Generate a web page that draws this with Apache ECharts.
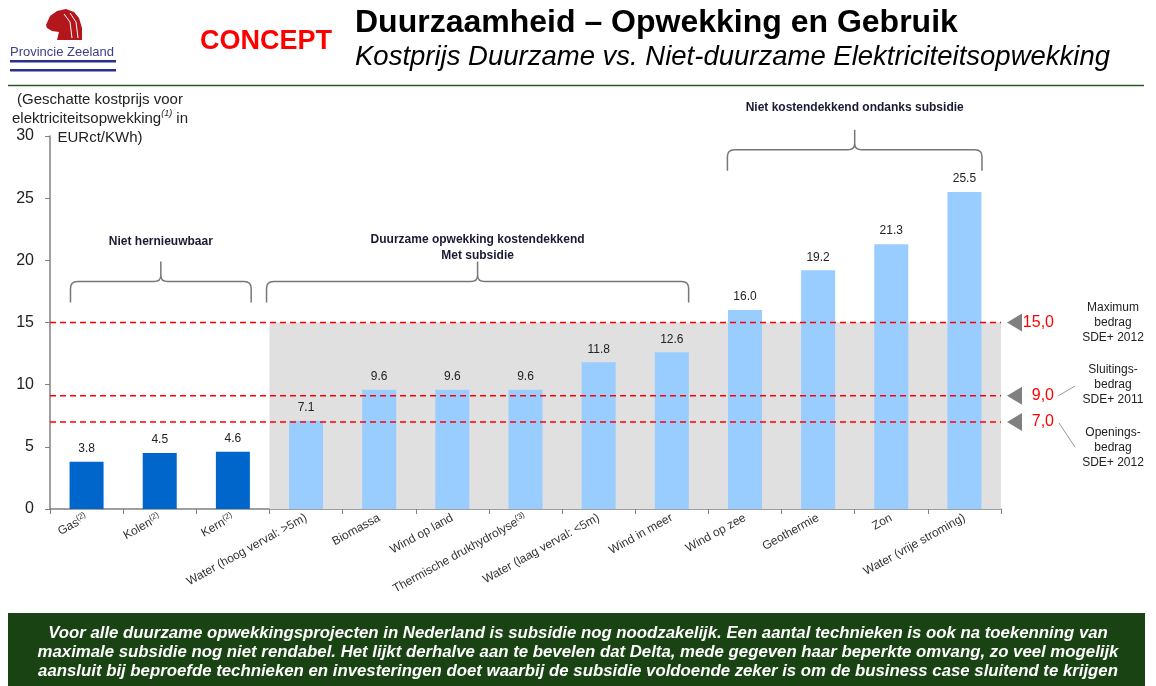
<!DOCTYPE html>
<html>
<head>
<meta charset="utf-8">
<script src="https://cdn.jsdelivr.net/npm/echarts@6/dist/echarts.min.js"></script>
<style>
html, body { margin: 0; padding: 0; background: #fff; }
#chart { width: 1156px; height: 686px; }
</style>
</head>
<body>
<div id="chart"></div>
<script>
// kostprijs per techniek (EURct/KWh)
const categories = ['Gas', 'Kolen', 'Kern', 'Water (hoog verval: >5m)', 'Biomassa', 'Wind op land',
    'Thermische drukhydrolyse', 'Water (laag verval: <5m)', 'Wind in meer', 'Wind op zee',
    'Geothermie', 'Zon', 'Water (vrije stroming)'];
const footnotes = ['(2)', '(2)', '(2)', '', '', '', '(3)', '', '', '', '', '', ''];
const costs = [3.8, 4.5, 4.6, 7.1, 9.6, 9.6, 9.6, 11.8, 12.6, 16.0, 19.2, 21.3, 25.5];
const renewable = [false, false, false, true, true, true, true, true, true, true, true, true, true];

// subsidiebedragen SDE+
const thresholds = [15.0, 9.1, 7.0];
const thresholdLabels = ['15,0', '9,0', '7,0'];

// grijs vlak: categorie 3 t/m 12, tot 15
const shade = [[3, 13, 15]];

// accolades boven de groepen
const bracketLabels = ['Niet hernieuwbaar', 'Duurzame opwekking kostendekkend\nMet subsidie', 'Niet kostendekkend ondanks subsidie'];
const bracketFrom = [0.28, 2.96, 9.26];
const bracketTo = [2.75, 8.73, 12.74];
const bracketLevel = [18.3, 18.3, 28.9];
const bracketLabelGap = [12, -2, 14];

const yTicks = { min: 0, max: 30, interval: 5 };

function bracketPath(x0, x1, yTip, yMid, yEnd) {
    const xc = (x0 + x1) / 2, r = 7;
    return 'M' + x0 + ' ' + yEnd + ' L' + x0 + ' ' + (yMid + r) +
        ' Q' + x0 + ' ' + yMid + ' ' + (x0 + r) + ' ' + yMid +
        ' L' + (xc - r) + ' ' + yMid +
        ' Q' + xc + ' ' + yMid + ' ' + xc + ' ' + (yMid - 6) +
        ' L' + xc + ' ' + yTip +
        ' M' + xc + ' ' + (yMid - 6) +
        ' Q' + xc + ' ' + yMid + ' ' + (xc + r) + ' ' + yMid +
        ' L' + (x1 - r) + ' ' + yMid +
        ' Q' + x1 + ' ' + yMid + ' ' + x1 + ' ' + (yMid + r) +
        ' L' + x1 + ' ' + yEnd;
}

const font = 'Liberation Sans, Arial, sans-serif';
const chart = echarts.init(document.getElementById('chart'));

const option = {
    animation: false,
    textStyle: { fontFamily: font },
    grid: { left: 50, right: 155, top: 136, bottom: 177, containLabel: false },
    xAxis: [{
        type: 'category',
        data: categories,
        axisLine: { lineStyle: { color: '#808080', width: 1.5 } },
        axisTick: { show: true, length: 5, lineStyle: { color: '#808080' } },
        axisLabel: {
            rotate: 29,
            margin: 8,
            interval: 0,
            color: '#333',
            fontSize: 12,
            fontFamily: font,
            formatter: (v, i) => footnotes[i] ? v + '{sup|' + footnotes[i] + '}' : v,
            rich: { sup: { fontSize: 8, verticalAlign: 'top', color: '#333', padding: [0, 0, 6, 0] } }
        }
    }, {
        type: 'value', min: 0, max: 13, show: false
    }],
    yAxis: {
        type: 'value',
        min: yTicks.min, max: yTicks.max, interval: yTicks.interval,
        splitLine: { show: false },
        axisLine: { show: true, lineStyle: { color: '#808080', width: 1.5 } },
        axisTick: { show: true, length: 5, lineStyle: { color: '#808080' } },
        axisLabel: { fontSize: 16, color: '#222', margin: 16, fontFamily: font }
    },
    series: [{
        type: 'custom',
        xAxisIndex: 1,
        z: 1,
        silent: true,
        data: shade,
        renderItem: (params, api) => {
            const a = api.coord([api.value(0), api.value(2)]);
            const b = api.coord([api.value(1), 0]);
            return { type: 'rect', shape: { x: a[0], y: a[1], width: b[0] - a[0], height: b[1] - a[1] },
                style: { fill: '#E0E0E0' } };
        }
    }, {
        type: 'bar',
        z: 2,
        barWidth: 34,
        data: costs.map((v, i) => ({ value: v, itemStyle: { color: renewable[i] ? '#99CCFF' : '#0066CC' } })),
        label: {
            show: true, position: 'top', distance: 7, color: '#222', fontSize: 12, fontFamily: font,
            formatter: p => p.value.toFixed(1)
        }
    }, {
        type: 'custom',
        xAxisIndex: 1,
        z: 3,
        silent: true,
        data: thresholds.map((v, i) => [0, v]),
        renderItem: (params, api) => {
            const v = api.value(1);
            const p0 = api.coord([0, v]);
            const p1 = api.coord([13, v]);
            return { type: 'group', children: [
                { type: 'line', shape: { x1: p0[0], y1: p0[1], x2: p1[0], y2: p1[1] },
                  style: { stroke: '#FF0000', lineWidth: 1.5, lineDash: [6, 4] } },
                { type: 'polygon', shape: { points: [[p1[0] + 6, p1[1]], [p1[0] + 21, p1[1] - 9], [p1[0] + 21, p1[1] + 9]] },
                  style: { fill: '#808080' } },
                { type: 'text', x: p1[0] + 53, y: p1[1],
                  style: { text: thresholdLabels[params.dataIndex], fill: '#FF0000', fontSize: 16, fontFamily: font,
                      align: 'right', verticalAlign: 'middle' } }
            ] };
        }
    }, {
        type: 'custom',
        xAxisIndex: 1,
        z: 4,
        silent: true,
        data: bracketFrom.map((f, i) => [f, bracketTo[i], bracketLevel[i]]),
        renderItem: (params, api) => {
            const a = api.coord([api.value(0), api.value(2)]);
            const b = api.coord([api.value(1), api.value(2)]);
            const yMid = a[1], yTip = yMid - 20, yEnd = yMid + 21;
            return { type: 'group', children: [
                { type: 'path', shape: { pathData: bracketPath(a[0], b[0], yTip, yMid, yEnd) },
                  style: { fill: 'none', stroke: '#777', lineWidth: 1.5 } },
                { type: 'text', x: (a[0] + b[0]) / 2, y: yTip - bracketLabelGap[params.dataIndex],
                  style: { text: bracketLabels[params.dataIndex], fill: '#1a1a33', fontSize: 12, fontWeight: 'bold',
                      fontFamily: font, align: 'center', verticalAlign: 'bottom', lineHeight: 16 } }
            ] };
        }
    }],
    graphic: [
        // logo
        { type: 'polygon', shape: { points: [[46, 25], [50, 16], [57, 11], [66, 9], [74, 12], [79, 18], [82, 28], [82, 40], [57, 40], [59, 32], [52, 31], [47, 28]] },
          style: { fill: '#B3161B' } },
        { type: 'polyline', shape: { points: [[64, 14], [70, 22], [72, 38]] }, style: { stroke: '#fff', lineWidth: 1, fill: 'none' } },
        { type: 'polyline', shape: { points: [[70, 13], [76, 22], [78, 38]] }, style: { stroke: '#fff', lineWidth: 1, fill: 'none' } },
        { type: 'text', left: 10, top: 46, style: { text: 'Provincie Zeeland', fill: '#3a3f8c', fontSize: 13, fontFamily: font } },
        { type: 'rect', shape: { x: 10, y: 60, width: 106, height: 2.5 }, style: { fill: '#2b2f8f' } },
        { type: 'rect', shape: { x: 10, y: 69, width: 106, height: 2.5 }, style: { fill: '#2b2f8f' } },
        // kop
        { type: 'text', left: 200, top: 28, style: { text: 'CONCEPT', fill: '#FF0000', fontSize: 27, fontWeight: 'bold', fontFamily: font } },
        { type: 'text', left: 355, top: 7, style: { text: 'Duurzaamheid \u2013 Opwekking en Gebruik', fill: '#000', fontSize: 32, fontWeight: 'bold', fontFamily: font } },
        { type: 'text', left: 355, top: 44, style: { text: 'Kostprijs Duurzame vs. Niet-duurzame Elektriciteitsopwekking', fill: '#000', fontSize: 27.5, fontStyle: 'italic', fontFamily: font } },
        { type: 'line', shape: { x1: 8, y1: 85.5, x2: 1144, y2: 85.5 }, style: { stroke: '#2d5a2d', lineWidth: 1.5 } },
        // as-titel
        { type: 'text', x: 100, y: 90, style: {
            text: '(Geschatte kostprijs voor\nelektriciteitsopwekking{sup|(1)} in\nEURct/KWh)',
            fill: '#222', fontSize: 15, lineHeight: 19, fontFamily: font, align: 'center',
            rich: { sup: { fontSize: 9, fontStyle: 'italic', verticalAlign: 'top', lineHeight: 19, padding: [0, 0, 6, 0], fill: '#222' } } } },
        // toelichting SDE+
        { type: 'text', x: 1113, y: 323, style: { text: 'Maximum\nbedrag\nSDE+ 2012', fill: '#222', fontSize: 12, lineHeight: 15, fontFamily: font, align: 'center', verticalAlign: 'middle' } },
        { type: 'text', x: 1113, y: 385, style: { text: 'Sluitings-\nbedrag\nSDE+ 2011', fill: '#222', fontSize: 12, lineHeight: 15, fontFamily: font, align: 'center', verticalAlign: 'middle' } },
        { type: 'text', x: 1113, y: 448, style: { text: 'Openings-\nbedrag\nSDE+ 2012', fill: '#222', fontSize: 12, lineHeight: 15, fontFamily: font, align: 'center', verticalAlign: 'middle' } },
        { type: 'line', shape: { x1: 1058, y1: 396, x2: 1075, y2: 386 }, style: { stroke: '#999', lineWidth: 1 } },
        { type: 'line', shape: { x1: 1059, y1: 423, x2: 1075, y2: 447 }, style: { stroke: '#999', lineWidth: 1 } },
        // conclusie
        { type: 'rect', shape: { x: 8, y: 613, width: 1137, height: 73 }, style: { fill: '#1a4314' } },
        { type: 'text', x: 578, y: 624, style: {
            text: 'Voor alle duurzame opwekkingsprojecten in Nederland is subsidie nog noodzakelijk. Een aantal technieken is ook na toekenning van\n' +
                'maximale subsidie nog niet rendabel. Het lijkt derhalve aan te bevelen dat Delta, mede gegeven haar beperkte omvang, zo veel mogelijk\n' +
                'aansluit bij beproefde technieken en investeringen doet waarbij de subsidie voldoende zeker is om de business case sluitend te krijgen',
            fill: '#fff', fontSize: 16.8, fontWeight: 'bold', fontStyle: 'italic', lineHeight: 19, fontFamily: font, align: 'center' } }
    ]
};

chart.setOption(option);
</script>
</body>
</html>
